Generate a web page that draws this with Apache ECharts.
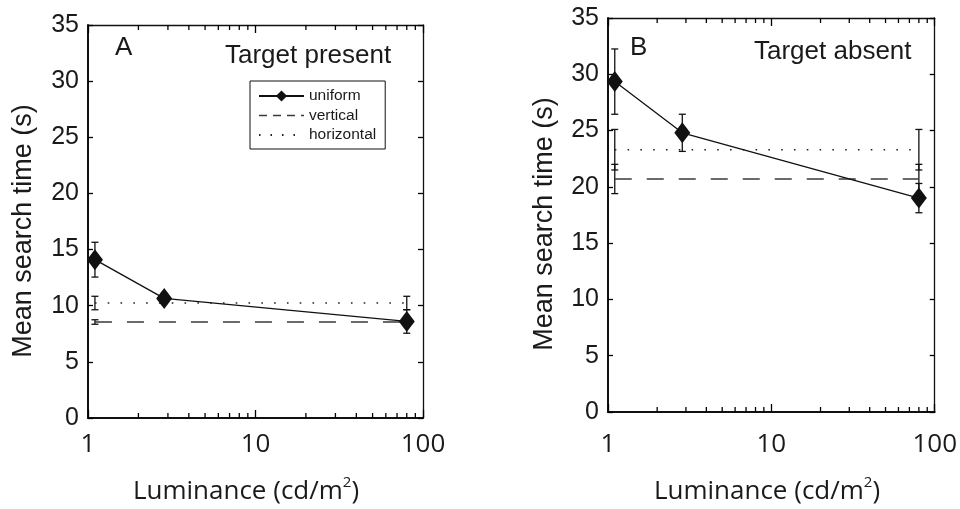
<!DOCTYPE html>
<html><head><meta charset="utf-8">
<script src="https://cdn.jsdelivr.net/npm/echarts@6/dist/echarts.min.js"></script>
<style>html,body{margin:0;padding:0;background:#fff}#c{width:960px;height:509px}</style>
</head><body><div id="c"></div>
<script>
// ---- data ----
const luminance = [1.1, 2.85, 80];          // x of the uniform condition points
const lineEnds = [1.1, 80];                 // extent of the constant (vertical / horizontal) conditions
const xMinorTicks = [2,3,4,5,6,7,8,9,20,30,40,50,60,70,80,90];
const xTickLabels = [1, 10, 100];
const yTickInterval = 5;

// Panel A : Target present
const presentUniform = [14.1, 10.65, 8.6];
const presentUniformErr = [1.55, 0.45, 1.05];
const presentVertical = 8.55, presentVerticalErr = 0.2;
const presentHorizontal = 10.24, presentHorizontalErr = 0.6;

// Panel B : Target absent
const absentUniform = [29.35, 24.8, 19.0];
const absentUniformErr = [2.9, 1.65, 1.3];
const absentVertical = 20.7, absentVerticalErr = 1.3;
const absentHorizontal = 23.3, absentHorizontalErr = 1.8;

const seriesNames = ['uniform', 'vertical', 'horizontal'];

// ---- styling ----
const INK = '#1a1a1a';
const HELV = '"Liberation Sans", Arial, sans-serif';
const MYRIAD = '"Open Sans", "Noto Sans", sans-serif';

const panels = [
  {grid:{left:88, top:25, width:335, height:393}, labelMargin:14,
   uni:presentUniform, uniErr:presentUniformErr, vert:presentVertical, vertErr:presentVerticalErr,
   hor:presentHorizontal, horErr:presentHorizontalErr},
  {grid:{left:608, top:18, width:334, height:394}, labelMargin:20,
   uni:absentUniform, uniErr:absentUniformErr, vert:absentVertical, vertErr:absentVerticalErr,
   hor:absentHorizontal, horErr:absentHorizontalErr}
];

function errRender(params, api) {
  const x = api.value(0), lo = api.value(1), hi = api.value(2);
  const pLo = api.coord([x, lo]), pHi = api.coord([x, hi]);
  const w = 3.5;
  const style = {stroke: '#111', lineWidth: 1.3};
  return {type: 'group', children: [
    {type: 'line', shape: {x1: pLo[0], y1: pLo[1], x2: pHi[0], y2: pHi[1]}, style: style},
    {type: 'line', shape: {x1: pLo[0]-w, y1: pLo[1], x2: pLo[0]+w, y2: pLo[1]}, style: style},
    {type: 'line', shape: {x1: pHi[0]-w, y1: pHi[1], x2: pHi[0]+w, y2: pHi[1]}, style: style}
  ]};
}

// minor log ticks on the bottom and top frame lines, positioned by the log axis
function minorTickRender(params, api) {
  const cs = params.coordSys;
  const px = api.coord([api.value(0), 0])[0];
  const len = 5;
  const style = {stroke: '#000', lineWidth: 1.3};
  return {type: 'group', children: [
    {type: 'line', shape: {x1: px, y1: cs.y + cs.height, x2: px, y2: cs.y + cs.height - len}, style: style},
    {type: 'line', shape: {x1: px, y1: cs.y, x2: px, y2: cs.y + len}, style: style}
  ]};
}

const grids = [], xAxes = [], yAxes = [], series = [];
panels.forEach((p, g) => {
  grids.push(p.grid);
  const logBase = {type:'log', logBase:10, min:1, max:100, gridIndex:g, splitLine:{show:false}};
  // main log axis (bottom) with major ticks + labels
  xAxes.push(Object.assign({}, logBase, {
    position:'bottom',
    axisLine:{show:true, onZero:false, lineStyle:{color:'#111', width:2}},
    axisTick:{show:true, inside:true, length:8, lineStyle:{color:'#000', width:1.3}},
    axisLabel:{margin:p.labelMargin, fontSize:26, fontFamily:MYRIAD, color:INK,
      customValues: xTickLabels}
  }));
  // top frame log axis
  xAxes.push(Object.assign({}, logBase, {
    position:'top',
    axisLine:{show:true, onZero:false, lineStyle:{color:'#111', width:1.3}},
    axisTick:{show:true, inside:true, length:8, lineStyle:{color:'#000', width:1.3}},
    axisLabel:{show:false}
  }));
  // y axes
  yAxes.push({type:'value', min:0, max:35, interval:yTickInterval, gridIndex:g, position:'left',
    axisLine:{show:true, onZero:false, lineStyle:{color:'#111', width:2}},
    axisTick:{inside:true, length:5, lineStyle:{color:'#000', width:1.3}},
    axisLabel:{margin:9, fontSize:25, fontFamily:HELV, color:INK},
    splitLine:{show:false}});
  yAxes.push({type:'value', min:0, max:35, interval:yTickInterval, gridIndex:g, position:'right',
    axisLine:{show:true, onZero:false, lineStyle:{color:'#111', width:1.3}},
    axisTick:{inside:true, length:5, lineStyle:{color:'#000', width:1.3}},
    axisLabel:{show:false}, splitLine:{show:false}});

  const xi = g * 2, yi = g * 2;
  series.push({
    name: seriesNames[0], type:'line', xAxisIndex:xi, yAxisIndex:yi, z:3,
    data: luminance.map((x, i) => [x, p.uni[i]]),
    symbol:'diamond', symbolSize:[16, 21],
    itemStyle:{color:'#111'}, lineStyle:{color:'#111', width:1.3}, animation:false
  });
  series.push({
    name: seriesNames[1], type:'line', xAxisIndex:xi, yAxisIndex:yi, z:2,
    data: lineEnds.map(x => [x, p.vert]), symbol:'none',
    itemStyle:{color:'#3a3a3a'}, lineStyle:{color:'#3a3a3a', width:1.5, type:[17, 15]}, animation:false
  });
  series.push({
    name: seriesNames[2], type:'line', xAxisIndex:xi, yAxisIndex:yi, z:2,
    data: lineEnds.map(x => [x, p.hor]), symbol:'none',
    itemStyle:{color:'#222'}, lineStyle:{color:'#222', width:1.6, type:[1.6, 11.2]}, animation:false
  });
  const errRows = luminance.map((x, i) => [x, p.uni[i] - p.uniErr[i], p.uni[i] + p.uniErr[i]])
    .concat(lineEnds.map(x => [x, p.vert - p.vertErr, p.vert + p.vertErr]))
    .concat(lineEnds.map(x => [x, p.hor - p.horErr, p.hor + p.horErr]));
  series.push({
    name:'errorbars-' + g, type:'custom', xAxisIndex:xi, yAxisIndex:yi, z:1,
    renderItem: errRender, data: errRows, animation:false,
    encode:{x:0, y:[1, 2]}
  });
  series.push({
    name:'minorticks-' + g, type:'custom', xAxisIndex:xi, yAxisIndex:yi, z:5, clip:false,
    renderItem: minorTickRender, data: xMinorTicks.map(v => [v, 0]), animation:false,
    encode:{x:0, y:1}, silent:true
  });
});

const xTitle = {
  text:'{a|Luminance (cd/m}{s|2}{a|)}',
  rich:{a:{fontSize:26, fontFamily:MYRIAD, fill:INK, lineHeight:34},
        s:{fontSize:15, fontFamily:MYRIAD, fill:INK, verticalAlign:'top', lineHeight:34}},
  align:'center', verticalAlign:'middle'
};

const chart = echarts.init(document.getElementById('c'), null, {renderer:'canvas'});
chart.setOption({
  animation:false,
  backgroundColor:'#fff',
  grid: grids,
  xAxis: xAxes,
  yAxis: yAxes,
  legend: {
    orient:'vertical', left:250, top:81,
    padding:[7, 9, 6, 8], borderColor:'#111', borderWidth:1, backgroundColor:'#fff',
    itemWidth:45, itemHeight:14, itemGap:3.5,
    textStyle:{fontSize:15.5, fontFamily:HELV, color:INK},
    data:[
      {name:'uniform'},
      {name:'vertical', lineStyle:{type:[8, 6], width:1.3}, itemStyle:{opacity:0}},
      {name:'horizontal', lineStyle:{type:[1.5, 10]}, itemStyle:{opacity:0}}
    ],
    selectedMode:false
  },
  series: series,
  graphic: [
    {type:'text', x:115, y:35, style:{text:'A', font:'26px ' + HELV, fill:INK, align:'left', verticalAlign:'top'}},
    {type:'text', x:225, y:43, style:{text:'Target present', font:'26px ' + HELV, fill:INK, align:'left', verticalAlign:'top'}},
    {type:'text', x:630, y:35, style:{text:'B', font:'26px ' + HELV, fill:INK, align:'left', verticalAlign:'top'}},
    {type:'text', x:754, y:39, style:{text:'Target absent', font:'26px ' + HELV, fill:INK, align:'left', verticalAlign:'top'}},
    {type:'text', x:24, y:231, rotation:Math.PI/2, style:{text:'Mean search time (s)', font:'27px ' + HELV, fill:INK, align:'center', verticalAlign:'middle'}},
    {type:'text', x:545, y:224, rotation:Math.PI/2, style:{text:'Mean search time (s)', font:'27px ' + HELV, fill:INK, align:'center', verticalAlign:'middle'}},
    {type:'text', x:246, y:492, style:xTitle},
    {type:'text', x:767, y:492, style:xTitle}
  ]
});
</script></body></html>
